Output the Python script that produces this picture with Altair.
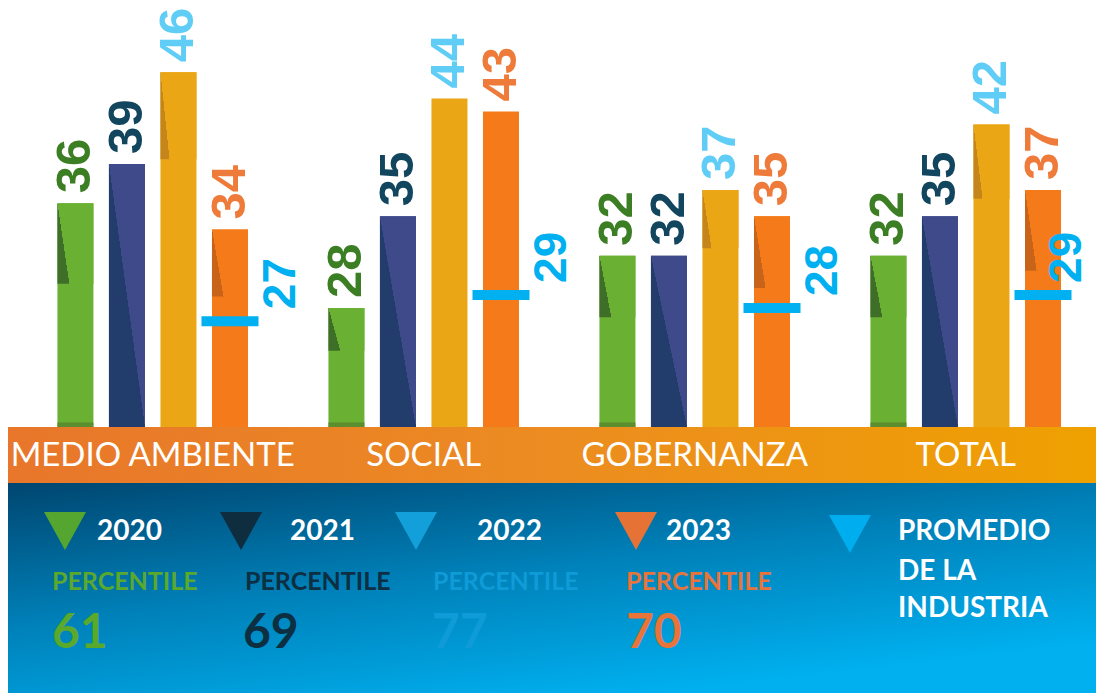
import json
import altair as alt
import pandas as pd

# ---------------- data ----------------
categorias = ["MEDIO AMBIENTE", "SOCIAL", "GOBERNANZA", "TOTAL"]
anios = ["2020", "2021", "2022", "2023"]
valores_2020 = [36, 28, 32, 32]
valores_2021 = [39, 35, 32, 35]
valores_2022 = [46, 44, 37, 42]
valores_2023 = [34, 43, 35, 37]
promedio_industria = [27, 29, 28, 29]
percentiles = [61, 69, 77, 70]
promedio_texto = ["PROMEDIO", "DE LA", "INDUSTRIA"]

series = {"2020": valores_2020, "2021": valores_2021, "2022": valores_2022, "2023": valores_2023}
df = pd.DataFrame([{"categoria": c, "anio": a, "valor": v}
                   for a, vals in series.items() for c, v in zip(categorias, vals)])
ind = pd.DataFrame({"categoria": categorias, "promedio": promedio_industria})

# ---------------- layout / style ----------------
W, H = 1088, 685
BASE = 419           # pixel row of the bar baseline
BAND_BOTTOM = 475
Y0, Y1 = 18.92, 50.9
GS = 5.26            # group step, in bar steps
CATS = json.dumps(categorias)
YRS = json.dumps(anios)
POS = f"indexof({CATS}, datum.categoria) * {GS} + indexof({YRS}, datum.anio)"
one = pd.DataFrame({"k": [0]})

bar_colors = {"2020": "#6AB033", "2021": "#3E4A8A", "2022": "#EBA615", "2023": "#F47A1A"}
label_colors = {"2020": "#3B7E23", "2021": "#12465F", "2022": "#60CDF6", "2023": "#EE7B3A"}
tri = {"2020": ("#3E6E27", 0.33, 0.36), "2022": ("#C4861A", 0.25, 0.245), "2023": ("#C8641A", 0.32, 0.34)}
IND_COLOR = "#00B0F0"


def grad(stops, x1=0, y1=0, x2=1, y2=0):
    return alt.LinearGradient(gradient="linear",
                              stops=[alt.GradientStop(color=c, offset=o) for o, c in stops],
                              x1=x1, y1=y1, x2=x2, y2=y2)


xs = alt.Scale(domain=[-63 / 52, (W - 63) / 52], range=[0, W], zero=False, nice=False)
ys = alt.Scale(domain=[Y0, Y1], range=[BASE, 0], zero=False, nice=False)
x = alt.X("pos:Q", axis=None, scale=xs)
y = alt.Y("valor:Q", axis=None, scale=ys)
bars = alt.Chart(df).transform_calculate(pos=POS)
L = []

# bars
L.append(bars.mark_bar(width=36, orient="vertical").encode(
    x=x, y=y, y2=alt.datum(Y0),
    color=alt.Color("anio:N", legend=None,
                    scale=alt.Scale(domain=anios, range=[bar_colors[a] for a in anios]))))

# navy two-tone diagonal
L.append(bars.transform_filter("datum.anio == '2021'").mark_bar(
    width=36, orient="vertical",
    fill=grad([(0, "#223C6C"), (0.5, "#223C6C"), (0.5, "#3E4A8A"), (1, "#3E4A8A")], x1=0, y1=1, x2=1, y2=0)
).encode(x=x, y=y, y2=alt.datum(Y0)))

# dark triangles at the top-left of bars
for a, (dark, wf, hf) in tri.items():
    filt = f"datum.anio == '{a}'"
    if a != "2020":
        filt += " && datum.categoria != 'SOCIAL'"
    L.append(bars.transform_filter(filt).transform_calculate(
        ybot=f"datum.valor - {hf} * (datum.valor - {Y0})"
    ).mark_bar(
        width=36, orient="vertical",
        fill=grad([(0, dark), (0.001, bar_colors[a]), (1, bar_colors[a])], x1=0, y1=0, x2=1, y2=-wf)
    ).encode(x=x, y=y, y2=alt.Y2("ybot:Q")))

# darker strip at the foot of the green bars
L.append(bars.transform_filter("datum.anio == '2020'").transform_calculate(
    ystrip=f"{Y0} + 0.35").mark_bar(width=36, orient="vertical", color="#5C8E2F").encode(
    x=x, y=alt.Y("ystrip:Q", axis=None, scale=ys), y2=alt.datum(Y0)))

# value labels
for a in anios:
    L.append(bars.transform_filter(f"datum.anio == '{a}'").mark_text(
        angle=270, align="left", baseline="middle", dx=10, font="Liberation Sans",
        fontWeight="bold", fontSize=49, color=label_colors[a]).encode(x=x, y=y, text="valor:Q"))

# orange category band
L.append(alt.Chart(one).mark_rect(fill=grad([(0, "#E8762B"), (0.5, "#EC8C21"), (1, "#EFA100")])).encode(
    x=alt.value(0), x2=alt.value(W), y=alt.value(BASE), y2=alt.value(BAND_BOTTOM)))

# blue legend panel
L.append(alt.Chart(one).mark_rect(
    fill=grad([(0, "#004670"), (0.5, "#0080B8"), (1, "#00B0EF")], x1=0, y1=0, x2=0.6, y2=1)).encode(
    x=alt.value(0), x2=alt.value(W), y=alt.value(BAND_BOTTOM), y2=alt.value(H)))

# industry average line + labels (centred on the 2023 bar)
ind_base = alt.Chart(ind).transform_calculate(pos=f"indexof({CATS}, datum.categoria) * {GS} + 3")
ind_y = alt.Y("promedio:Q", axis=None, scale=ys)
L.append(ind_base.mark_tick(orient="horizontal", size=57, thickness=10, color=IND_COLOR, opacity=1).encode(
    x=x, y=ind_y))
for filt, shift in [("datum.categoria != 'TOTAL'", 51), ("datum.categoria == 'TOTAL'", 24)]:
    L.append(ind_base.transform_filter(filt).mark_text(
        angle=270, align="left", baseline="middle", dx=12, dy=shift, font="Liberation Sans",
        fontWeight="bold", fontSize=46, color=IND_COLOR).encode(x=x, y=ind_y, text="promedio:Q"))

# category labels
L.append(alt.Chart(pd.DataFrame({"categoria": categorias})).transform_calculate(
    pos=f"indexof({CATS}, datum.categoria) * {GS} + 1.5").mark_text(
    font="Lato", fontSize=33, color="white", baseline="middle").encode(
    x=x, y=alt.value(448), text="categoria:N"))

# legend inside the panel
TRI = "M-1,-0.9L1,-0.9L0,0.9Z"
ltc = ["#55A630", "#0E2D3E", "#139FD9", "#E77236"]
ltx = ["#5AA92D", "#0D2F42", "#0F9BD7", "#E8743A"]
tri_x = [57, 233, 408, 628]
year_x = [89, 282, 469, 658]
pct_x = [44, 237, 425, 618]
num_x = [44, 235, 424, 618]
for i, a in enumerate(anios):
    b = alt.Chart(pd.DataFrame({"anio": [a], "pct": [percentiles[i]], "lbl": ["PERCENTILE"]}))
    L.append(b.mark_point(shape=TRI, filled=True, size=1764, opacity=1, color=ltc[i],
                          strokeWidth=0).encode(x=alt.value(tri_x[i]), y=alt.value(523)))
    L.append(b.mark_text(font="Lato", fontWeight="bold", fontSize=28, color="white", align="left",
                         baseline="middle").encode(x=alt.value(year_x[i]), y=alt.value(524), text="anio:N"))
    L.append(b.mark_text(font="Lato", fontWeight="bold", fontSize=25, color=ltx[i], align="left",
                         baseline="middle").encode(x=alt.value(pct_x[i]), y=alt.value(574), text="lbl:N"))
    L.append(b.mark_text(font="Lato", fontWeight="bold", fontSize=48, color=ltx[i], align="left",
                         baseline="middle").encode(x=alt.value(num_x[i]), y=alt.value(626), text="pct:Q"))
L.append(alt.Chart(one).mark_point(shape=TRI, filled=True, size=1764, opacity=1, color="#00AEEF",
                                   strokeWidth=0).encode(x=alt.value(842), y=alt.value(526)))
for j, t in enumerate(promedio_texto):
    L.append(alt.Chart(pd.DataFrame({"t": [t]})).mark_text(
        font="Lato", fontWeight="bold", fontSize=28, color="white", align="left", baseline="middle"
    ).encode(x=alt.value(890), y=alt.value(524 + [0, 40, 77][j]), text="t:N"))

chart = alt.layer(*L).properties(
    width=W, height=H, autosize=alt.AutoSizeParams(type="none"), padding=0
).configure_view(strokeWidth=0)

chart.save("out.html", embed_options={"renderer": "svg", "actions": False})
